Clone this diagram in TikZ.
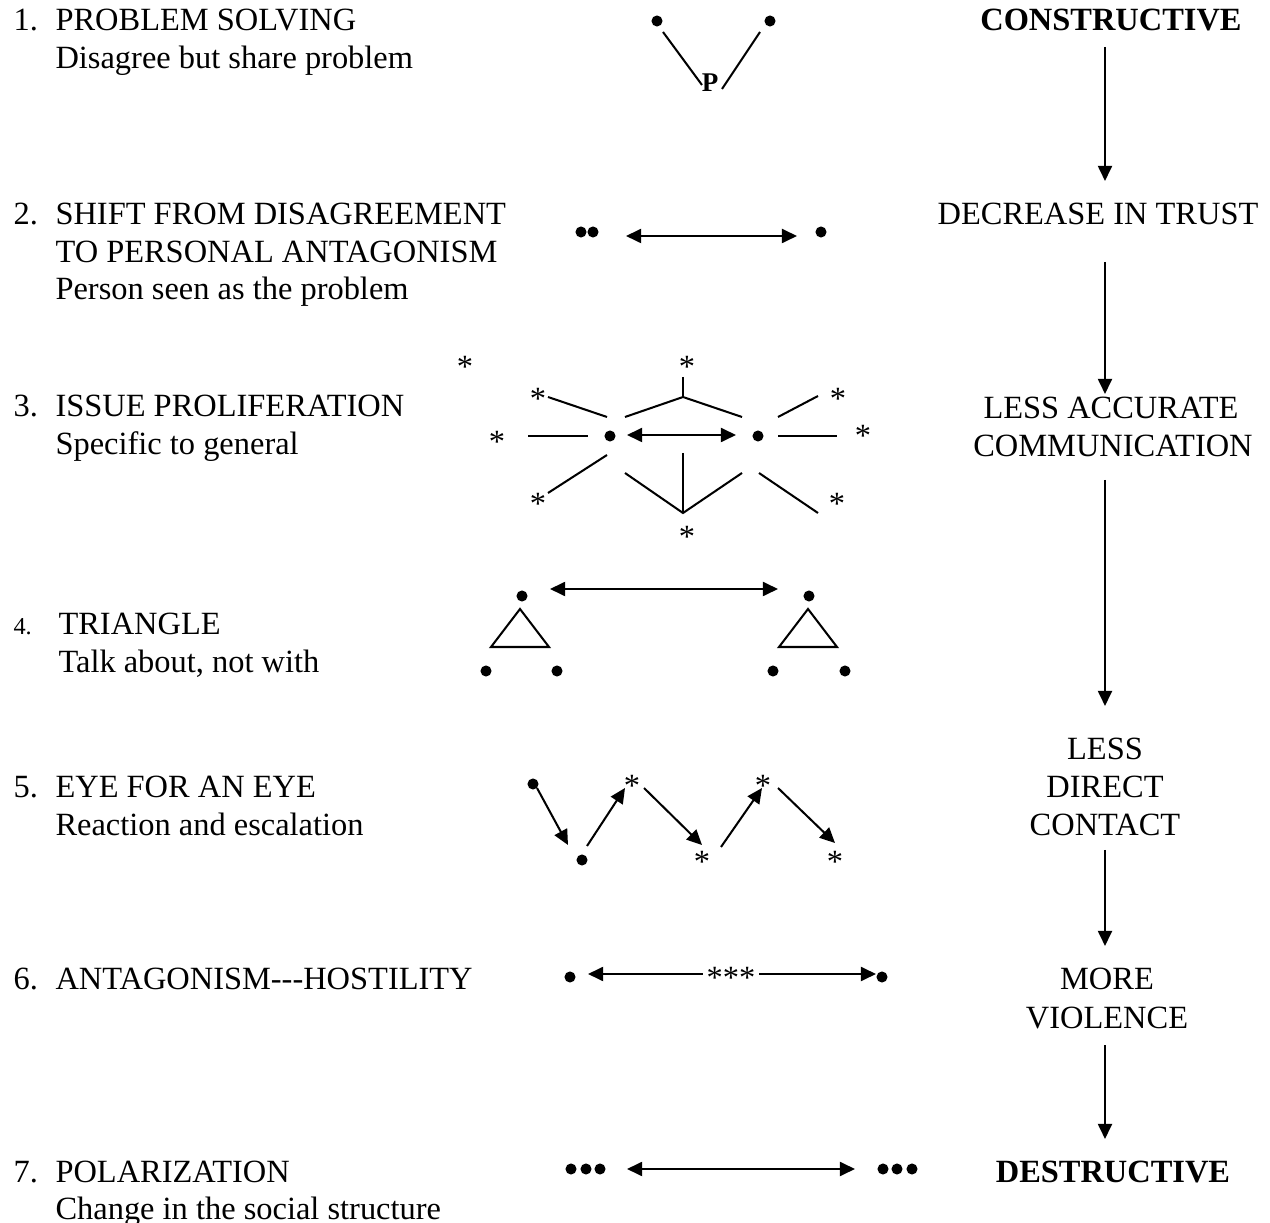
\documentclass[tikz,border=0pt]{standalone}
\usepackage{fontspec}
\setmainfont{Liberation Serif}
\usetikzlibrary{arrows.meta}
\tikzset{
  txt/.style={inner sep=0, anchor=base west, font=\fontsize{12}{14}\selectfont},
  ctxt/.style={inner sep=0, anchor=base, font=\fontsize{12}{14}\selectfont},
  bctxt/.style={inner sep=0, anchor=base, font=\fontsize{12}{14}\selectfont\bfseries},
  num/.style={inner sep=0, anchor=base west, font=\fontsize{12}{14}\selectfont},
  smallnum/.style={inner sep=0, anchor=base west, font=\fontsize{9}{11}\selectfont},
  dot/.style={circle, fill, inner sep=0, minimum size=4.1pt},
  star/.style={inner sep=0, anchor=base, font=\fontsize{12}{14}\selectfont},
  ln/.style={line width=0.75pt},
  arr/.style={ln, -{Triangle[length=5.6pt,width=5.2pt]}},
  darr/.style={ln, {Triangle[length=5.6pt,width=5.2pt]}-{Triangle[length=5.6pt,width=5.2pt]}},
}
\begin{document}
\begin{tikzpicture}[x=0.37pt,y=-0.37pt]
\useasboundingbox (0,0) rectangle (1270,1223);
% ---------- left column ----------
\node[num] (n1) at (13,31) {1.};
\node[txt] (t1a) at (55,31) {PROBLEM SOLVING};
\node[txt] (t1b) at (55,68.5) {Disagree but share problem};
\node[num] (n2) at (13,225) {2.};
\node[txt] (t2a) at (55,225) {SHIFT FROM DISAGREEMENT};
\node[txt] (t2b) at (55,262.5) {TO PERSONAL ANTAGONISM};
\node[txt] (t2c) at (55,300) {Person seen as the problem};
\node[num] (n3) at (13,417) {3.};
\node[txt] (t3a) at (55,417) {ISSUE PROLIFERATION};
\node[txt] (t3b) at (55,454.5) {Specific to general};
\node[smallnum] (n4) at (13,635) {4.};
\node[txt] (t4a) at (58,635) {TRIANGLE};
\node[txt] (t4b) at (58,672.5) {Talk about, not with};
\node[num] (n5) at (13,798) {5.};
\node[txt] (t5a) at (55,798) {EYE FOR AN EYE};
\node[txt] (t5b) at (55,835.5) {Reaction and escalation};
\node[num] (n6) at (13,990) {6.};
\node[txt] (t6a) at (55,990) {ANTAGONISM-{}-{}-HOSTILITY};
\node[num] (n7) at (13,1182) {7.};
\node[txt] (t7a) at (55,1182) {POLARIZATION};
\node[txt] (t7b) at (55,1219.5) {Change in the social structure};
% ---------- right column ----------
\node[bctxt] (r1) at (1111,31) {CONSTRUCTIVE};
\node[ctxt] (r2) at (1098,225) {DECREASE IN TRUST};
\node[ctxt] (r3a) at (1111,419) {LESS ACCURATE};
\node[ctxt] (r3b) at (1113,456.5) {COMMUNICATION};
\node[ctxt] (r4a) at (1105,760) {LESS};
\node[ctxt] (r4b) at (1105,798) {DIRECT};
\node[ctxt] (r4c) at (1105,835.5) {CONTACT};
\node[ctxt] (r5a) at (1107,990) {MORE};
\node[ctxt] (r5b) at (1107,1028) {VIOLENCE};
\node[bctxt] (r6) at (1113,1182) {DESTRUCTIVE};
\coordinate (ra1) at (1105,47);   \coordinate (rb1) at (1105,181);
\coordinate (ra2) at (1105,262);  \coordinate (rb2) at (1105,394);
\coordinate (ra3) at (1105,480);  \coordinate (rb3) at (1105,706);
\coordinate (ra4) at (1105,850);  \coordinate (rb4) at (1105,946);
\coordinate (ra5) at (1105,1045); \coordinate (rb5) at (1105,1139);
\draw[arr] (ra1) -- (rb1);
\draw[arr] (ra2) -- (rb2);
\draw[arr] (ra3) -- (rb3);
\draw[arr] (ra4) -- (rb4);
\draw[arr] (ra5) -- (rb5);
% ---------- 1. problem solving ----------
\node[dot] (d1a) at (657,21) {};
\node[dot] (d1b) at (770,21) {};
\node[inner sep=0, anchor=base, font=\fontsize{10}{12}\selectfont\bfseries] (p) at (710,92) {P};
\draw[ln] (663,32) -- (702,85);
\draw[ln] (722,89) -- (760,32);
% ---------- 2. shift ----------
\node[dot] (d2a) at (581,232) {};
\node[dot] (d2b) at (593,232) {};
\node[dot] (d2c) at (821,232) {};
\coordinate (a2l) at (626,236); \coordinate (a2r) at (797,236);
\draw[darr] (a2l) -- (a2r);
% ---------- 3. issue proliferation ----------
\node[dot] (d3a) at (610,436) {};
\node[dot] (d3b) at (758,436) {};
\coordinate (a3l) at (627,435); \coordinate (a3r) at (736,435);
\draw[darr] (a3l) -- (a3r);
\node[star] (s0) at (465,378) {*};
\node[star] (s1) at (687,378) {*};
\node[star] (s2) at (538,410) {*};
\node[star] (s3) at (497,453) {*};
\node[star] (s4) at (538,515) {*};
\node[star] (s5) at (687,548) {*};
\node[star] (s6) at (838,410) {*};
\node[star] (s7) at (863,447) {*};
\node[star] (s8) at (837,515) {*};
\draw[ln] (683,377) -- (683,397);
\draw[ln] (625,417) -- (683,397) -- (742,417);
\draw[ln] (548,397) -- (607,417);
\draw[ln] (528,436) -- (588,436);
\draw[ln] (548,493) -- (607,455);
\draw[ln] (683,453) -- (683,513);
\draw[ln] (625,473) -- (683,513) -- (742,473);
\draw[ln] (778,417) -- (818,396);
\draw[ln] (778,436) -- (837,436);
\draw[ln] (759,473) -- (818,513);
% ---------- 4. triangle ----------
\node[dot] (d4a) at (522,596) {};
\node[dot] (d4b) at (486,671) {};
\node[dot] (d4c) at (557,671) {};
\node[dot] (d4d) at (809,596) {};
\node[dot] (d4e) at (773,671) {};
\node[dot] (d4f) at (845,671) {};
\draw[ln] (520,609) -- (549,647) -- (491,647) -- cycle;
\draw[ln] (808,609) -- (837,647) -- (779,647) -- cycle;
\coordinate (a4l) at (550,589); \coordinate (a4r) at (778,589);
\draw[darr] (a4l) -- (a4r);
% ---------- 5. eye for an eye ----------
\node[dot] (d5a) at (533,784) {};
\node[dot] (d5b) at (582,860) {};
\node[star] (s5a) at (632,797) {*};
\node[star] (s5b) at (702,873) {*};
\node[star] (s5c) at (763,797) {*};
\node[star] (s5d) at (835,873) {*};
\draw[arr] (537,788) -- (568,845);
\draw[arr] (587,846) -- (625,788);
\draw[arr] (644,788) -- (702,845);
\draw[arr] (721,847) -- (762,788);
\draw[arr] (778,788) -- (835,843);
% ---------- 6. antagonism ----------
\node[dot] (d6a) at (570,977) {};
\node[dot] (d6b) at (882,977) {};
\node[star] (s6) at (731,988) {***};
\draw[ln, {Triangle[length=5.6pt,width=5.2pt]}-] (588,974) -- (703,974);
\draw[arr] (759,974) -- (876,974);
% ---------- 7. polarization ----------
\node[dot] (d7a) at (571,1169) {};
\node[dot] (d7b) at (586,1169) {};
\node[dot] (d7c) at (600,1169) {};
\node[dot] (d7d) at (883,1169) {};
\node[dot] (d7e) at (897,1169) {};
\node[dot] (d7f) at (912,1169) {};
\coordinate (a7l) at (627,1169); \coordinate (a7r) at (855,1169);
\draw[darr] (a7l) -- (a7r);
\end{tikzpicture}
\end{document}
